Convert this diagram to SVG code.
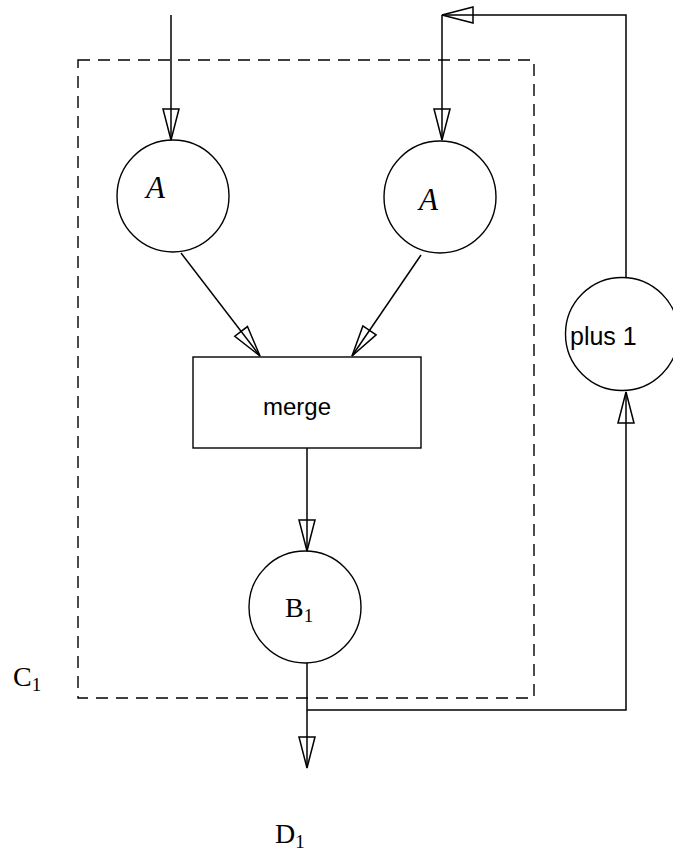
<svg xmlns="http://www.w3.org/2000/svg" width="673" height="854" viewBox="0 0 673 854">
<style>
.node{fill:none;stroke:#000;stroke-width:1.4}
.edge{fill:none;stroke:#000;stroke-width:1.5}
.sans{font-family:"Liberation Sans",Arial,sans-serif;font-size:24px;fill:#000}
.serif{font-family:"Liberation Serif","Times New Roman",serif;font-size:28px;fill:#000}
.sub{font-size:19px}
.ital{font-family:"Liberation Serif","Times New Roman",serif;font-style:italic;font-size:31px;fill:#000}
</style>
<defs>
<marker id="arr" viewBox="-2 -2 35 20" refX="31" refY="8" markerWidth="35" markerHeight="20" markerUnits="userSpaceOnUse" orient="auto" overflow="visible">
<path d="M0,0 L31,8 L0,16 Z" fill="none" stroke="#000" stroke-width="1.5" stroke-linejoin="miter"/>
</marker>
</defs>
<rect id="cluster" x="78" y="60" width="456" height="638" fill="none" stroke="#000" stroke-width="1.4" stroke-dasharray="12 8"/>
<text id="label-c1" class="serif" x="13" y="686">C<tspan class="sub" dy="5">1</tspan></text>
<text id="label-d1" class="serif" x="275" y="843">D<tspan class="sub" dy="5">1</tspan></text>
<g id="edges">
<path class="edge" d="M171,15 V140" marker-end="url(#arr)"/>
<path class="edge" d="M626,277 V15 H442" marker-end="url(#arr)"/>
<path class="edge" d="M442,15 V140" marker-end="url(#arr)"/>
<path class="edge" d="M181,253 L260,356" marker-end="url(#arr)"/>
<path class="edge" d="M421,255 L352,356" marker-end="url(#arr)"/>
<path class="edge" d="M307,448 V551" marker-end="url(#arr)"/>
<path class="edge" d="M307,663 V768" marker-end="url(#arr)"/>
<path class="edge" d="M307,710 H626 V392" marker-end="url(#arr)"/>
</g>
<g id="a-left">
<circle class="node" cx="173" cy="196" r="56"/>
<text class="ital" x="146" y="198">A</text>
</g>
<g id="a-right">
<circle class="node" cx="440" cy="197" r="56"/>
<text class="ital" x="419" y="210">A</text>
</g>
<g id="merge">
<rect class="node" x="193" y="357" width="228" height="91"/>
<text class="sans" x="297" y="415" text-anchor="middle">merge</text>
</g>
<g id="b1">
<circle class="node" cx="305" cy="607" r="56"/>
<text class="serif" x="285" y="617">B<tspan class="sub" dy="5">1</tspan></text>
</g>
<g id="plus1">
<circle class="node" cx="622" cy="334" r="56.5"/>
<text class="sans" x="570" y="345" style="font-size:25px">plus 1</text>
</g>
</svg>
